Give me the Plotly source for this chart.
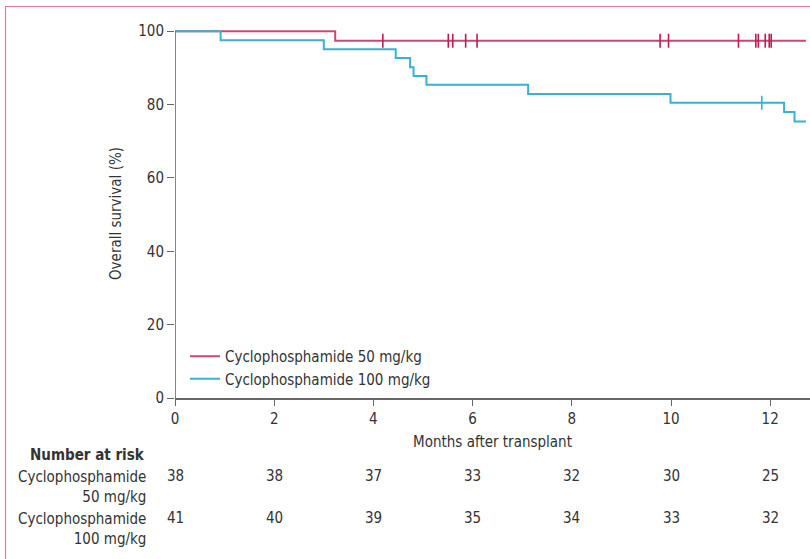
import plotly.graph_objects as go

# ---------------- data ----------------
months_ticks = [0, 2, 4, 6, 8, 10, 12]

# Cyclophosphamide 50 mg/kg (step curve)
low_t = [0, 3.23, 12.72]
low_s = [100, 97.4, 97.4]
low_cens_t = [4.19, 5.51, 5.60, 5.86, 6.09, 9.78, 9.95, 11.36, 11.71, 11.76, 11.90, 11.98, 12.02]

# Cyclophosphamide 100 mg/kg (step curve)
high_t = [0, 0.92, 3.00, 4.45, 4.74, 4.81, 5.07, 7.12, 9.99, 12.28, 12.49, 12.72]
high_s = [100, 97.5, 95.1, 92.7, 90.2, 87.8, 85.4, 82.9, 80.5, 78.0, 75.4, 75.4]
high_cens_t = [11.83]

risk_low = [38, 38, 37, 33, 32, 30, 25]
risk_high = [41, 40, 39, 35, 34, 33, 32]

names = ["Cyclophosphamide 50 mg/kg", "Cyclophosphamide 100 mg/kg"]
risk_labels = ["Cyclophosphamide<br>50 mg/kg", "Cyclophosphamide<br>100 mg/kg"]

# ---------------- style ----------------
RED = "#c94870"
RED_DARK = "#c01a50"
BLUE = "#3ab0d2"
AXIS = "#666666"
TXT = "#333333"
FONT = "Liberation Sans Narrow, DejaVu Sans Condensed, sans-serif"

W, H = 810, 559
ML, MR, MT, MB = 175, 0, 29, 161
PH = H - MT - MB


def step_value(ts, ss, t):
    v = ss[0]
    for ti, si in zip(ts, ss):
        if ti <= t:
            v = si
    return v


def py2paper(py):
    return (H - MB - py) / PH


def px2paper(px):
    return (px - ML) / (W - ML - MR)


fig = go.Figure()

fig.add_trace(go.Scatter(x=low_t, y=low_s, mode="lines", line=dict(color=RED, width=2, shape="hv"),
                         name=names[0], showlegend=True))
fig.add_trace(go.Scatter(x=high_t, y=high_s, mode="lines", line=dict(color=BLUE, width=2, shape="hv"),
                         name=names[1], showlegend=True))

fig.add_trace(go.Scatter(x=low_cens_t, y=[step_value(low_t, low_s, t) for t in low_cens_t], mode="markers",
                         marker=dict(symbol="line-ns", size=10, line=dict(color=RED_DARK, width=1.6)),
                         showlegend=False, cliponaxis=False))
fig.add_trace(go.Scatter(x=high_cens_t, y=[step_value(high_t, high_s, t) for t in high_cens_t], mode="markers",
                         marker=dict(symbol="line-ns", size=10, line=dict(color=BLUE, width=1.6)),
                         showlegend=False, cliponaxis=False))

annotations = []
for i, t in enumerate(months_ticks):
    annotations.append(dict(x=t, y=py2paper(476), xref="x", yref="paper", text=str(risk_low[i]),
                            showarrow=False, xanchor="center", yanchor="middle", font=dict(size=15, color=TXT, family=FONT)))
    annotations.append(dict(x=t, y=py2paper(518), xref="x", yref="paper", text=str(risk_high[i]),
                            showarrow=False, xanchor="center", yanchor="middle", font=dict(size=15, color=TXT, family=FONT)))

annotations.append(dict(x=px2paper(147), y=py2paper(455), xref="paper", yref="paper", text="<b>Number at risk</b>",
                        showarrow=False, xanchor="right", yanchor="middle", font=dict(size=15, color=TXT, family=FONT)))
annotations.append(dict(x=px2paper(148), y=py2paper(487), xref="paper", yref="paper", text=risk_labels[0],
                        showarrow=False, xanchor="right", yanchor="middle", align="right",
                        font=dict(size=15, color=TXT, family=FONT)))
annotations.append(dict(x=px2paper(148), y=py2paper(529), xref="paper", yref="paper", text=risk_labels[1],
                        showarrow=False, xanchor="right", yanchor="middle", align="right",
                        font=dict(size=15, color=TXT, family=FONT)))

shapes = [
    # y axis line from 0 to 100
    dict(type="line", xref="x", yref="y", x0=0, x1=0, y0=0, y1=100, line=dict(color=AXIS, width=1.6), layer="above"),
    # pink frame
    dict(type="rect", xref="paper", yref="paper", x0=px2paper(5.5), x1=px2paper(840), y0=py2paper(600), y1=py2paper(6.5),
         line=dict(color="#e27a98", width=1.2), fillcolor="rgba(0,0,0,0)", layer="below"),
]

fig.update_layout(
    width=W, height=H,
    margin=dict(l=ML, r=MR, t=MT, b=MB, pad=0),
    paper_bgcolor="white", plot_bgcolor="white",
    font=dict(family=FONT, size=15, color=TXT),
    showlegend=True,
    legend=dict(x=px2paper(185), y=py2paper(340), xanchor="left", yanchor="top",
                bgcolor="rgba(0,0,0,0)", font=dict(size=15, color=TXT, family=FONT),
                tracegroupgap=0, itemwidth=30),
    xaxis=dict(range=[0, (W - ML) / 49.6], tickvals=months_ticks, ticks="outside", ticklen=6, tickcolor=AXIS,
               tickwidth=1.3, showline=True, linecolor=AXIS, linewidth=1.6, showgrid=False, zeroline=False,
               title=dict(text="Months after transplant", standoff=10, font=dict(size=15, color=TXT)),
               tickfont=dict(size=15, color=TXT), ticklabelstandoff=0),
    yaxis=dict(range=[0, 100.6], tickvals=[0, 20, 40, 60, 80, 100], ticks="outside", ticklen=7, tickcolor=AXIS,
               tickwidth=1.3, showline=False, showgrid=False, zeroline=False,
               title=dict(text="Overall survival (%)", standoff=12, font=dict(size=15, color=TXT)),
               tickfont=dict(size=15, color=TXT)),
    annotations=annotations,
    shapes=shapes,
)

fig.write_html("out.html", config={"displayModeBar": False},
               post_script="document.body.style.margin='0';document.body.style.overflow='hidden';")
